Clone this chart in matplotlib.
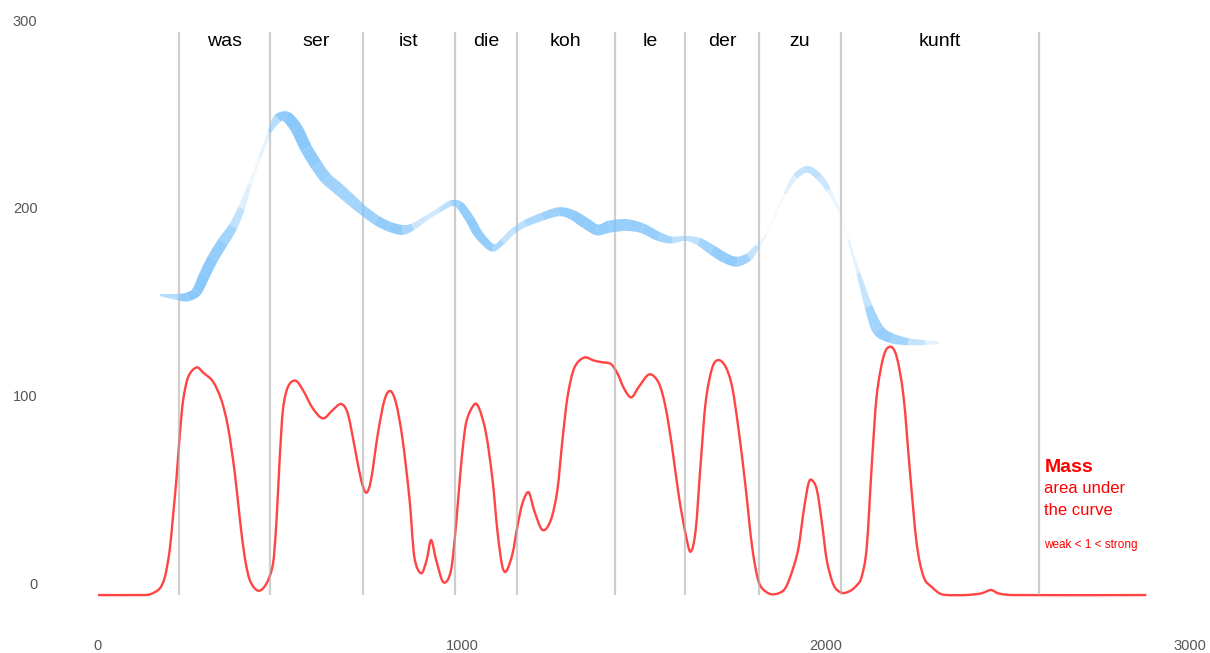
import numpy as np
import matplotlib
matplotlib.use("Agg")
import matplotlib.pyplot as plt
from matplotlib.path import Path
from matplotlib.patches import PathPatch
from matplotlib.transforms import offset_copy

plt.rcParams['font.family'] = ['Liberation Sans', 'DejaVu Sans']

# syllables and their boundaries (ms)
syllables = ['was', 'ser', 'ist', 'die', 'koh', 'le', 'der', 'zu', 'kunft']
boundaries = [222, 472, 727, 982, 1150, 1421, 1613, 1816, 2041, 2584]

# mass / intensity curve (red)
mass_x = [0, 115, 143, 170, 184, 197, 206, 216, 225, 234, 248, 271, 289, 316, 339,
          357, 376, 389, 403, 417, 440, 463, 481, 490, 499, 508, 522, 543, 563, 590,
          618, 645, 668, 686, 705, 723, 737, 750, 769, 787, 803, 819, 837, 856, 869,
          888, 903, 915, 929, 949, 970, 984, 997, 1011, 1034, 1047, 1066, 1084, 1098,
          1111, 1122, 1139, 1152, 1166, 1183, 1198, 1221, 1244, 1262, 1276, 1290, 1308,
          1335, 1363, 1386, 1409, 1427, 1445, 1465, 1486, 1515, 1541, 1559, 1577, 1596,
          1614, 1628, 1642, 1655, 1669, 1687, 1704, 1724, 1742, 1760, 1779, 1797, 1815,
          1838, 1861, 1888, 1911, 1925, 1939, 1952, 1961, 1975, 1989, 2002, 2021, 2044,
          2067, 2085, 2098, 2112, 2126, 2139, 2158, 2176, 2194, 2213, 2231, 2249, 2268,
          2290, 2318, 2382, 2427, 2453, 2473, 2510, 2880]
mass_y = [0, 0, 0.4, 3.6, 9.8, 24, 41.8, 63.1, 86.2, 104, 116.4, 121.4, 118.6, 113.8, 104,
          89.8, 64.9, 41.8, 20.4, 8, 2.3, 6.2, 16.9, 38.2, 72, 98.7, 111.1, 114.3, 109.3, 99.6,
          94.2, 98.7, 101.9, 96.9, 79.1, 61.3, 54.6, 61.3, 86.2, 104, 108.8, 102.2, 82.7, 50.7, 20.4,
          11.6, 18.7, 29.3, 18.7, 6.8, 13.3, 38.2, 68.4, 91.6, 101.7, 99.6, 86.2, 61.3, 32.9,
          15.1, 12.8, 22.2, 36.4, 48.9, 54.8, 45.3, 34.7, 40, 56, 82.7, 105.8, 120.9,
          126.6, 125, 124.1, 123.2, 118.2, 110.2, 105.4, 111.1, 117.7, 112.9, 100.4, 79.1, 52.4,
          32.9, 23.1, 34.7, 68.4, 102.2, 120.9, 125.3, 121.8, 111.1, 88, 57.8, 25.8, 7.1,
          1.4, 0.5, 3.6, 15.1, 25.8, 45.3, 59.6, 61.3, 56, 38.2, 18.7, 5.3, 1.2,
          2.3, 5.3, 9.8, 25.8, 70.2, 105.8, 127.1, 132.4, 127.1, 105.8, 64.9, 27.6, 9.8,
          4.4, 0.4, 0, 0.9, 2.7, 0.9, 0, 0]

# pitch contour (blue ribbon): position, width (strength) and opacity
pitch_x = [170, 225, 248, 271, 293, 316, 344, 371, 394, 417, 444, 472, 494, 517, 545,
           572, 600, 627, 664, 700, 727, 764, 801, 837, 865, 901, 938, 970, 993, 1020,
           1047, 1084, 1111, 1139, 1175, 1221, 1267, 1303, 1340, 1372, 1404, 1450, 1495,
           1541, 1577, 1614, 1651, 1687, 1724, 1756, 1788, 1811, 1834, 1888, 1916, 1948,
           1980, 2007, 2035, 2062, 2089, 2117, 2144, 2181, 2226, 2272, 2309]
pitch_y = [160, 158.8, 159.1, 161.8, 170.7, 179.6, 188.4, 196.4, 206.2, 218.7, 232.9, 247.1,
           254.2, 255.1, 248.9, 238.2, 229.3, 222.2, 216, 209.8, 205.3, 200, 196.4, 194.7,
           196.4, 200.9, 205.3, 208.9, 208, 200.9, 192, 185.2, 188.4, 193.8, 198.2, 201.8,
           204.4, 202.7, 198.2, 194.7, 196.4, 197.3, 195.6, 191.1, 189.3, 190.2, 188.4, 184,
           179.6, 177.8, 180.4, 185.8, 192, 214.2, 223.1, 227, 223.1, 216, 205.3, 189.3,
           171.6, 153.8, 141.3, 136.9, 135.1, 134.6, 134.6]
pitch_w = [2, 7, 9, 10, 11, 11, 11, 9, 7, 4, 3, 4, 9, 11, 12,
           12, 12, 12, 12, 11, 10, 10, 10, 10, 7, 5, 5, 6, 8, 9,
           9, 8, 6, 6, 7, 8, 9, 10, 11, 11, 12, 12, 10,
           9, 7, 5, 8, 10, 10, 10, 8, 5, 2, 3, 6, 7,
           7, 5, 2, 2, 4, 8, 12, 10, 7, 5, 3]
pitch_a = [0.3, 0.8, 0.9, 0.9, 0.9, 0.85, 0.8, 0.6, 0.35, 0.15, 0.08, 0.3, 0.8, 0.9, 0.9,
           0.9, 0.8, 0.75, 0.7, 0.7, 0.7, 0.8, 0.85, 0.85, 0.5, 0.3, 0.4, 0.6, 0.8, 0.85,
           0.85, 0.8, 0.5, 0.4, 0.6, 0.7, 0.8, 0.85, 0.85, 0.85, 0.8, 0.8, 0.8,
           0.8, 0.6, 0.4, 0.6, 0.8, 0.85, 0.85, 0.6, 0.3, 0.05, 0.1, 0.4, 0.5,
           0.5, 0.3, 0.05, 0.1, 0.3, 0.6, 0.8, 0.8, 0.6, 0.3, 0.1]

x_ticks = [0, 1000, 2000, 3000]
y_ticks = [0, 100, 200, 300]

W, H = 1210, 653
XLIM = (-269.2, 3054.9)
YLIM = (-30.9, 317.3)


def bezier_controls(pts, clip_x=False):
    """Catmull-Rom style control points for a smooth curve through pts."""
    ext = np.vstack([pts[0], pts, pts[-1]])
    d1 = (ext[2:-1] - ext[:-3]) / 6
    d2 = (ext[3:] - ext[1:-2]) / 6
    if clip_x:
        # keep control points inside their segment so the curve never loops back
        dx = np.diff(pts[:, 0])[:, None] / 3
        s1 = np.minimum(1, dx / np.maximum(np.abs(d1[:, :1]), 1e-9))
        s2 = np.minimum(1, dx / np.maximum(np.abs(d2[:, :1]), 1e-9))
        d1, d2 = d1 * s1, d2 * s2
    return pts[:-1] + d1, pts[1:] - d2


def smooth_path(pts):
    c1, c2 = bezier_controls(pts, clip_x=True)
    verts = [pts[0]]
    codes = [Path.MOVETO]
    for i in range(len(pts) - 1):
        verts += [c1[i], c2[i], pts[i + 1]]
        codes += [Path.CURVE4] * 3
    return Path(verts, codes)


fig = plt.figure(figsize=(W / 100, H / 100), dpi=100)
ax = fig.add_axes([0, 0, 1, 1])
ax.set_xlim(*XLIM)
ax.set_ylim(*YLIM)
ax.axis('off')

# red mass curve
mass_pts = np.column_stack([mass_x, mass_y]).astype(float)
ax.add_patch(PathPatch(smooth_path(mass_pts), facecolor='none', edgecolor='#ff3030',
                       lw=1.7, alpha=0.9, zorder=2))

# syllable boundaries, drawn semi-transparent over the curve
ax.vlines(boundaries, 0, 300, color='#b0b0b0', lw=1.6, alpha=0.6, zorder=3)

# syllable labels centred in their segment
for i, syl in enumerate(syllables):
    mid = (boundaries[i] + boundaries[i + 1]) / 2
    ax.text(mid, 292.8, syl, ha='center', va='baseline', fontsize=14, color='black')

# blue ribbon: edges offset perpendicular to the contour in pixel space
px_x = W / (XLIM[1] - XLIM[0])
px_y = H / (YLIM[1] - YLIM[0])
P = np.column_stack([np.array(pitch_x) * px_x, np.array(pitch_y) * px_y])
T = np.gradient(P, axis=0)
T /= np.linalg.norm(T, axis=1)[:, None]
N = np.column_stack([-T[:, 1], T[:, 0]])
half = np.array(pitch_w)[:, None] / 2
up = (P + N * half) / [px_x, px_y]
lo = (P - N * half) / [px_x, px_y]
uc1, uc2 = bezier_controls(up)
lc1, lc2 = bezier_controls(lo)
for i in range(len(P) - 1):
    verts = [up[i], uc1[i], uc2[i], up[i + 1], lo[i + 1], lc2[i], lc1[i], lo[i], up[i]]
    codes = [Path.MOVETO, Path.CURVE4, Path.CURVE4, Path.CURVE4, Path.LINETO,
             Path.CURVE4, Path.CURVE4, Path.CURVE4, Path.CLOSEPOLY]
    a = (pitch_a[i] + pitch_a[i + 1]) / 2
    ax.add_patch(PathPatch(Path(verts, codes), facecolor=(0.49, 0.76, 0.98, a),
                           edgecolor='none', lw=0, zorder=4))

# axis labels
tick_col = '#555555'
for v in y_ticks:
    ax.text(-166, v, str(v), ha='right', va='center', fontsize=10.5, color=tick_col,
            transform=offset_copy(ax.transData, fig=fig, y=10.5, units='dots'))
for v in x_ticks:
    ax.text(v, -27.2, str(v), ha='center', va='center', fontsize=10.5, color=tick_col)

# legend-like annotation
ax.text(2600, 65.6, 'Mass', color='red', fontsize=14, fontweight='bold', va='baseline')
ax.text(2600, 54.2, 'area under', color='red', fontsize=12, va='baseline')
ax.text(2600, 42.7, 'the curve', color='red', fontsize=12, va='baseline')
ax.text(2600, 24.9, 'weak < 1 < strong', color='red', fontsize=8.5, va='baseline')

fig.savefig('out.png', dpi=100)
